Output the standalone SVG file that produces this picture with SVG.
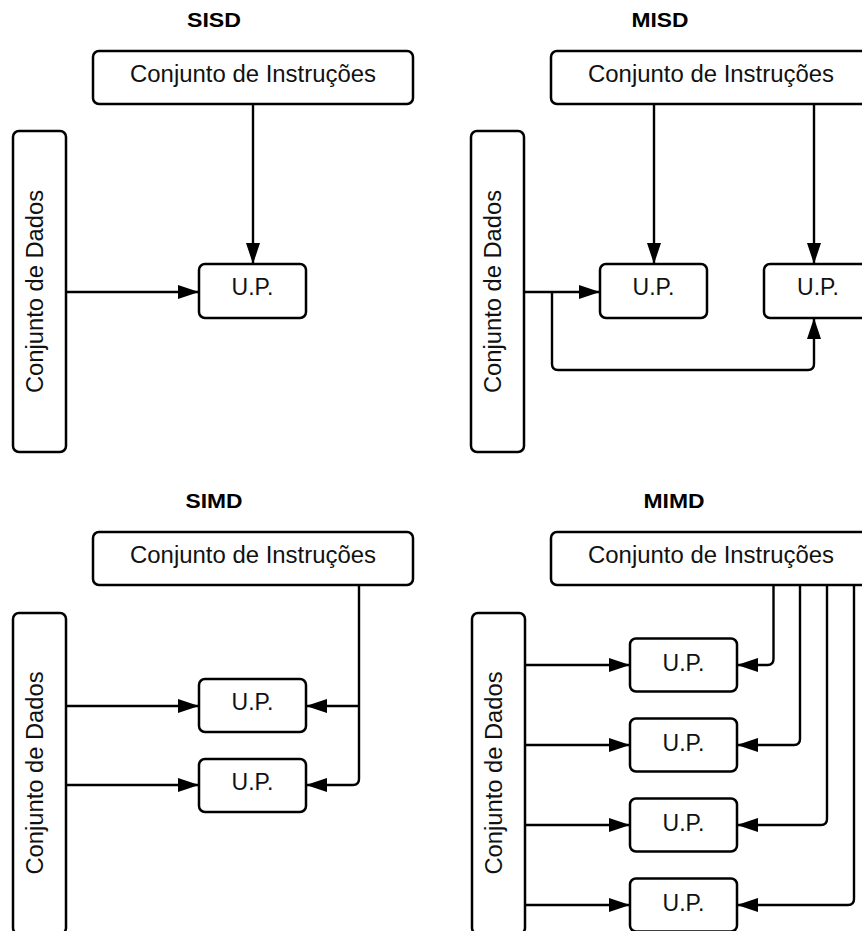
<svg xmlns="http://www.w3.org/2000/svg" width="862" height="931" viewBox="0 0 862 931">
  <style>
    .box { fill: #ffffff; stroke: #000000; stroke-width: 2.5; }
    .lbl { font-family: "Liberation Sans", Arial, sans-serif; font-size: 23px; fill: #111111; text-anchor: middle; }
    .ttl { font-family: "Liberation Sans", Arial, sans-serif; font-size: 21px; font-weight: bold; fill: #000000; text-anchor: middle; }
    .wire { fill: none; stroke: #000000; stroke-width: 2.4; }
    .arr { marker-end: url(#head); }
  </style>
  <defs>
    <marker id="head" markerUnits="userSpaceOnUse" markerWidth="22" markerHeight="16" refX="21" refY="8" orient="auto">
      <path d="M0,1 L21,8 L0,15 Z" fill="#000000"/>
    </marker>
  </defs>

  <rect width="862" height="931" fill="#ffffff"/>

  <!-- Section titles -->
  <g id="titles">
    <text class="ttl" x="214" y="27" textLength="54" lengthAdjust="spacingAndGlyphs">SISD</text>
    <text class="ttl" x="660" y="27" textLength="57" lengthAdjust="spacingAndGlyphs">MISD</text>
    <text class="ttl" x="214" y="508" textLength="57" lengthAdjust="spacingAndGlyphs">SIMD</text>
    <text class="ttl" x="674" y="508" textLength="61" lengthAdjust="spacingAndGlyphs">MIMD</text>
  </g>

  <!-- Connectors -->
  <g id="connectors">
    <!-- SISD -->
    <path class="wire arr" d="M253,104 V264"/>
    <path class="wire arr" d="M66,292 H199"/>
    <!-- MISD -->
    <path class="wire arr" d="M654,104 V264"/>
    <path class="wire arr" d="M814,104 V264"/>
    <path class="wire arr" d="M524,292 H600"/>
    <path class="wire arr" d="M552,292 V364 Q552,370 558,370 H808 Q814,370 814,364 V318"/>
    <!-- SIMD -->
    <path class="wire arr" d="M66,706 H199"/>
    <path class="wire arr" d="M66,785 H199"/>
    <path class="wire arr" d="M359,706 H306"/>
    <path class="wire arr" d="M359,585 V779 Q359,785 353,785 H306"/>
    <!-- MIMD -->
    <path class="wire arr" d="M525,665 H630"/>
    <path class="wire arr" d="M525,745 H630"/>
    <path class="wire arr" d="M525,825 H630"/>
    <path class="wire arr" d="M525,905 H630"/>
    <path class="wire arr" d="M773.5,585 V659 Q773.5,665 767.5,665 H737"/>
    <path class="wire arr" d="M800,585 V739 Q800,745 794,745 H737"/>
    <path class="wire arr" d="M827,585 V819 Q827,825 821,825 H737"/>
    <path class="wire arr" d="M854,585 V899 Q854,905 848,905 H737"/>
  </g>

  <!-- SISD nodes -->
  <g id="sisd-instr">
    <rect class="box" x="93" y="51" width="320" height="53" rx="6"/>
    <text class="lbl" x="253" y="82" textLength="246" lengthAdjust="spacingAndGlyphs">Conjunto de Instruções</text>
  </g>
  <g id="sisd-data">
    <rect class="box" x="13" y="131" width="53" height="321" rx="6"/>
    <text class="lbl" transform="translate(43,291.5) rotate(-90)" textLength="203" lengthAdjust="spacingAndGlyphs">Conjunto de Dados</text>
  </g>
  <g id="sisd-up">
    <rect class="box" x="199" y="264" width="107" height="54" rx="6"/>
    <text class="lbl" x="252.5" y="295">U.P.</text>
  </g>

  <!-- MISD nodes -->
  <g id="misd-instr">
    <rect class="box" x="551" y="51" width="320" height="53" rx="6"/>
    <text class="lbl" x="711" y="82" textLength="246" lengthAdjust="spacingAndGlyphs">Conjunto de Instruções</text>
  </g>
  <g id="misd-data">
    <rect class="box" x="471" y="131" width="53" height="321" rx="6"/>
    <text class="lbl" transform="translate(501,291.5) rotate(-90)" textLength="203" lengthAdjust="spacingAndGlyphs">Conjunto de Dados</text>
  </g>
  <g id="misd-up1">
    <rect class="box" x="600" y="264" width="107" height="54" rx="6"/>
    <text class="lbl" x="653.5" y="295">U.P.</text>
  </g>
  <g id="misd-up2">
    <rect class="box" x="764" y="264" width="107" height="54" rx="6"/>
    <text class="lbl" x="818" y="295">U.P.</text>
  </g>

  <!-- SIMD nodes -->
  <g id="simd-instr">
    <rect class="box" x="93" y="532" width="320" height="53" rx="6"/>
    <text class="lbl" x="253" y="563" textLength="246" lengthAdjust="spacingAndGlyphs">Conjunto de Instruções</text>
  </g>
  <g id="simd-data">
    <rect class="box" x="13" y="613" width="53" height="321" rx="6"/>
    <text class="lbl" transform="translate(43,773) rotate(-90)" textLength="203" lengthAdjust="spacingAndGlyphs">Conjunto de Dados</text>
  </g>
  <g id="simd-up1">
    <rect class="box" x="199" y="679" width="107" height="53" rx="6"/>
    <text class="lbl" x="252.5" y="710">U.P.</text>
  </g>
  <g id="simd-up2">
    <rect class="box" x="199" y="759" width="107" height="53" rx="6"/>
    <text class="lbl" x="252.5" y="790">U.P.</text>
  </g>

  <!-- MIMD nodes -->
  <g id="mimd-instr">
    <rect class="box" x="551" y="532" width="320" height="53" rx="6"/>
    <text class="lbl" x="711" y="563" textLength="246" lengthAdjust="spacingAndGlyphs">Conjunto de Instruções</text>
  </g>
  <g id="mimd-data">
    <rect class="box" x="472" y="613" width="53" height="321" rx="6"/>
    <text class="lbl" transform="translate(502,773) rotate(-90)" textLength="203" lengthAdjust="spacingAndGlyphs">Conjunto de Dados</text>
  </g>
  <g id="mimd-up1">
    <rect class="box" x="630" y="638.5" width="107" height="53" rx="6"/>
    <text class="lbl" x="683.5" y="671">U.P.</text>
  </g>
  <g id="mimd-up2">
    <rect class="box" x="630" y="718.5" width="107" height="53" rx="6"/>
    <text class="lbl" x="683.5" y="751">U.P.</text>
  </g>
  <g id="mimd-up3">
    <rect class="box" x="630" y="798.5" width="107" height="53" rx="6"/>
    <text class="lbl" x="683.5" y="831">U.P.</text>
  </g>
  <g id="mimd-up4">
    <rect class="box" x="630" y="878.5" width="107" height="53" rx="6"/>
    <text class="lbl" x="683.5" y="911">U.P.</text>
  </g>
</svg>
